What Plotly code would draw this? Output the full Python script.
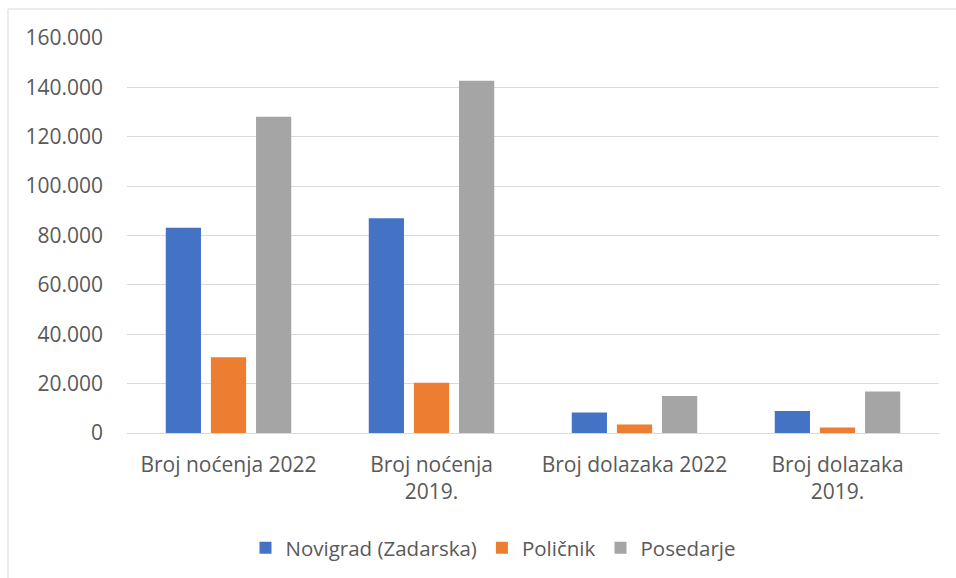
import plotly.graph_objects as go

categories = ["Broj noćenja 2022", "Broj noćenja<br>2019.", "Broj dolazaka 2022", "Broj dolazaka<br>2019."]
novigrad = [83100, 87000, 8300, 8900]
policnik = [30700, 20400, 3400, 2200]
posedarje = [128100, 142700, 15000, 16800]
tick_vals = [0, 20000, 40000, 60000, 80000, 100000, 120000, 140000, 160000]
tick_text = ["0", "20.000", "40.000", "60.000", "80.000", "100.000", "120.000", "140.000", "160.000"]

W, H = 956, 578
L, R, T, B = 127, 17, 38, 145
pw, ph = W - L - R, H - T - B

FONT = "Open Sans"
GRAY = "#595959"

fig = go.Figure()
for name, vals, col in [("Novigrad (Zadarska)", novigrad, "#4472C4"),
                        ("Poličnik", policnik, "#ED7D31"),
                        ("Posedarje", posedarje, "#A5A5A5")]:
    fig.add_trace(go.Bar(x=categories, y=vals, name=name, marker=dict(color=col, line=dict(width=0))))

fig.update_layout(
    width=W, height=H,
    margin=dict(l=L, r=R, t=T, b=B, autoexpand=False),
    paper_bgcolor="white", plot_bgcolor="white",
    barmode="group", bargap=0.333, bargroupgap=0.22,
    font=dict(family=FONT, size=20, color=GRAY),
    legend=dict(orientation="h", x=0.5 + (493 - (L + pw / 2)) / pw, xanchor="center",
                y=(T + ph - 548) / ph, yanchor="middle",
                font=dict(family=FONT, size=20.5, color=GRAY), itemwidth=30,
                traceorder="normal", itemclick=False),
    showlegend=True,
)
fig.update_xaxes(showgrid=False, showline=False, ticks="", ticklabelstandoff=17,
                 tickfont=dict(family=FONT, size=21, color=GRAY))
fig.update_yaxes(range=[0, 160000], tickvals=tick_vals, ticktext=tick_text,
                 showgrid=True, gridcolor="#D9D9D9", gridwidth=1,
                 zeroline=True, zerolinecolor="#D9D9D9", zerolinewidth=1,
                 showline=False, ticks="", ticklabelstandoff=23,
                 tickfont=dict(family=FONT, size=21, color=GRAY))

# chart frame (top and left edges visible)
x_left = (8 - L) / pw
y_top = (T + ph - 9) / ph
y_bot = (T + ph - 600) / ph
x_right = (W + 20 - L) / pw
fig.add_shape(type="line", xref="paper", yref="paper", x0=x_left, x1=x_right, y0=y_top, y1=y_top,
              line=dict(color="#D9D9D9", width=1))
fig.add_shape(type="line", xref="paper", yref="paper", x0=x_left, x1=x_left, y0=y_top, y1=y_bot,
              line=dict(color="#D9D9D9", width=1))

fig.write_html("out.html", config={"displayModeBar": False},
               post_script="document.body.style.margin='0';document.body.style.overflow='hidden';")
